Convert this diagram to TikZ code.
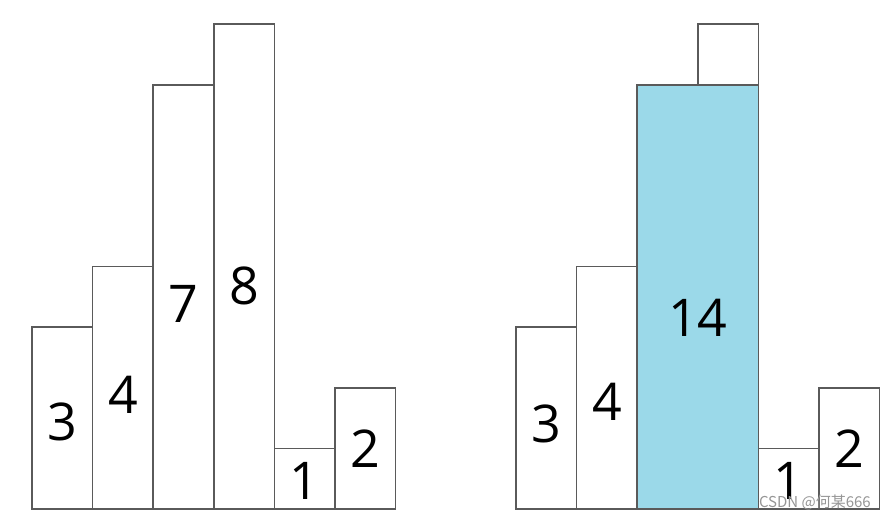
\documentclass[tikz,border=0pt]{standalone}
\usepackage{fontspec}
\setmainfont{Open Sans}
\newfontfamily\cjkfont{Noto Sans CJK SC}
\usetikzlibrary{positioning}
\definecolor{barblue}{RGB}{155,217,233}
\definecolor{barline}{RGB}{90,90,90}
\definecolor{markgray}{RGB}{150,150,150}

\begin{document}
\begin{tikzpicture}[x=1pt,y=-1pt,
  bar/.style={draw=barline,line width=1.5pt,fill=white},
  num/.style={font=\fontsize{52}{52}\selectfont,inner sep=0pt}]
\useasboundingbox (0,0) rectangle (887,520);

% Left histogram
\foreach \i/\h/\ly in {0/3/421.5,1/4/395,2/7/303.5,3/8/286,4/1/481,5/2/448.5} {
    \draw[bar] (32+\i*60.6,509) rectangle ++(60.6,-\h*60.6);
    \node[num] (L\i) at (32+\i*60.6+30.3,\ly) {\h};
}

% Right histogram
\foreach \i/\h/\ly in {0/3/424,1/4/402,4/1/481,5/2/448.5} {
    \draw[bar] (516+\i*60.6,509) rectangle ++(60.6,-\h*60.6);
    \node[num] (R\i) at (516+\i*60.6+30.3,\ly) {\h};
}
\draw[bar,fill=barblue] (637.2,509) rectangle ++(121.2,-7*60.6);
\draw[bar] (697.8,509-7*60.6) rectangle ++(60.6,-60.6);
\node[num] (R2) at (697.8,317.5) {14};

% Watermark
\node[font=\cjkfont\fontsize{15}{15}\selectfont,text=markgray,
  inner sep=0pt,anchor=base east] (mark) at (871,507) {CSDN @何某666};

\end{tikzpicture}
\end{document}
